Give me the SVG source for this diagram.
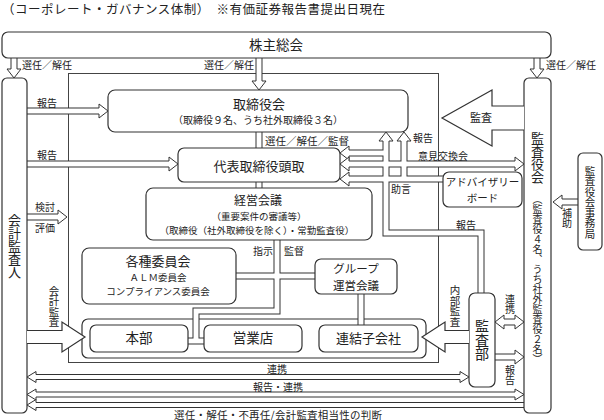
<svg xmlns="http://www.w3.org/2000/svg" width="604" height="420" viewBox="0 0 604 420">
<style>
text { font-family: "Noto Sans CJK JP", "Noto Sans CJK SC", sans-serif; fill: #222; }
.box { fill: #fff; stroke: #333; stroke-width: 1.2; }
.thin { fill: none; stroke: #444; stroke-width: 1; }
.dlo { fill: none; stroke: #333; stroke-width: 7; }
.dli { fill: none; stroke: #fff; stroke-width: 5; }
.dlo2 { fill: none; stroke: #333; stroke-width: 6; }
.dli2 { fill: none; stroke: #fff; stroke-width: 4; }
.hd { fill: #fff; stroke: #333; stroke-width: 1; }
.big { fill: #fff; stroke: #333; stroke-width: 1.2; }
.v { writing-mode: vertical-rl; text-anchor: middle; }
.c { text-anchor: middle; }
.s10 { font-size: 10px; }
.s11 { font-size: 11px; }
.s13 { font-size: 13px; }
</style>
<defs>
<g id="cp">
<path d="M14,56 V70"/>
<path d="M259,56 V82"/>
<path d="M537,56 V70"/>
<path d="M25,111 H100"/>
<path d="M25,164 H170"/>
<path d="M25,217 H58"/>
<path d="M259,130 V150"/>
<path d="M259,180 V190"/>
<path d="M277,238 V311 H196 V341"/>
<path d="M234,276 H317"/>
<path d="M186,341 H206"/>
<path d="M361,292 V327"/>
<path d="M481,295 V233 H386 V140"/>
<path d="M386,153 H348"/>
<path d="M348,164 H516"/>
<path d="M445,179 H348"/>
<path d="M404,179 V140"/>
<path d="M580,202 H561"/>
<path d="M503,322 H516"/>
<path d="M493,357 H516"/>
</g>
<g id="cp2">
<path d="M35,377 H461"/>
<path d="M35,394.5 H516"/>
<path d="M35,405 H526"/>
</g>
</defs>

<g id="title">
<text x="2" y="14" style="font-size:12.5px" textLength="383" lengthAdjust="spacing">（コーポレート・ガバナンス体制）　※有価証券報告書提出日現在</text>
</g>

<rect id="outer-frame" class="thin" x="68.5" y="73.5" width="370" height="289"/>
<rect id="group-frame" class="box" x="82" y="319" width="344" height="39" rx="6"/>

<g id="connectors">
<use href="#cp" class="dlo"/>
<use href="#cp2" class="dlo2"/>
<use href="#cp" class="dli"/>
<use href="#cp2" class="dli2"/>
</g>

<g id="shareholders"><rect class="box" x="2" y="32" width="549" height="26" rx="6"/>
<text class="c" x="276" y="50" style="font-size:13.5px">株主総会</text></g>

<g id="auditor"><rect class="box" x="2" y="78" width="25" height="335" rx="5"/>
<text class="v s13" x="14.5" y="246.5">会計監査人</text></g>

<g id="kansayakukai"><rect class="box" x="524" y="78" width="27" height="335" rx="5"/>
<text class="v s13" x="537.5" y="158">監査役会</text>
<text class="v s10" x="537.5" y="279">（監査役４名、うち社外監査役２名）</text></g>

<g id="jimukyoku"><rect class="box" x="578" y="153" width="24" height="97" rx="5"/>
<text class="v" x="590" y="202.5" style="font-size:10.5px">監査役会事務局</text></g>

<g id="board"><rect class="box" x="108" y="90" width="300" height="42" rx="7"/>
<text class="c s13" x="259" y="108.5">取締役会</text>
<text class="c s10" x="258" y="124">（取締役９名、うち社外取締役３名）</text></g>

<g id="president"><rect class="box" x="178" y="148" width="162" height="34" rx="6"/>
<text class="c s13" x="259" y="171">代表取締役頭取</text></g>

<g id="keiei"><rect class="box" x="146" y="188" width="226" height="52" rx="7"/>
<text class="c" x="258" y="205" style="font-size:12px">経営会議</text>
<text class="c" x="259" y="219.5" style="font-size:9.5px">（重要案件の審議等）</text>
<text class="c" x="257" y="233.5" style="font-size:9.5px">（取締役（社外取締役を除く）・常勤監査役）</text></g>

<g id="committees"><rect class="box" x="82" y="248" width="154" height="56" rx="7"/>
<text class="c s13" x="158" y="266">各種委員会</text>
<text class="c" x="158" y="281" style="font-size:9.5px">ＡＬＭ委員会</text>
<text class="c" x="158" y="295" style="font-size:9.5px">コンプライアンス委員会</text></g>

<g id="group-meeting"><rect class="box" x="315" y="259" width="82" height="35" rx="6"/>
<text class="c" x="356" y="273" style="font-size:11.5px">グループ</text>
<text class="c" x="356" y="290" style="font-size:11.5px">運営会議</text></g>

<g id="advisory"><rect class="box" x="443" y="172" width="79" height="35" rx="6"/>
<text class="c" x="482.5" y="186" style="font-size:10.5px">アドバイザリー</text>
<text class="c" x="482.5" y="201.5" style="font-size:10.5px">ボード</text></g>

<g id="honbu"><rect class="box" x="90" y="325" width="98" height="27" rx="6"/>
<text class="c" x="139" y="343" style="font-size:13.5px">本部</text></g>
<g id="eigyoten"><rect class="box" x="204" y="325" width="98" height="27" rx="6"/>
<text class="c" x="253" y="343" style="font-size:13.5px">営業店</text></g>
<g id="renketsu"><rect class="box" x="319" y="325" width="99" height="27" rx="6"/>
<text class="c s13" x="368.5" y="343">連結子会社</text></g>

<g id="kansabu"><rect class="box" x="469" y="293" width="26" height="94" rx="6"/>
<text class="v" x="482" y="340" style="font-size:14px">監査部</text></g>

<g id="arrowheads">
<path class="hd" d="M11,69 L7,69 L14,78 L21,69 L17,69"/>
<path class="hd" d="M256,81 L252,81 L259,90 L266,81 L262,81"/>
<path class="hd" d="M534,69 L530,69 L537,78 L544,69 L540,69"/>
<path class="hd" d="M99,108 L99,104 L108,111 L99,118 L99,114"/>
<path class="hd" d="M169,161 L169,157 L178,164 L169,171 L169,167"/>
<path class="hd" d="M58,214 L58,210 L67,217 L58,224 L58,220"/>
<path class="hd" d="M383,141 L379,141 L386,132 L393,141 L389,141"/>
<path class="hd" d="M401,141 L397,141 L404,132 L411,141 L407,141"/>
<path class="hd" d="M349,150 L349,146 L340,153 L349,160 L349,156"/>
<path class="hd" d="M349,161 L349,157 L340,164 L349,171 L349,167"/>
<path class="hd" d="M515,161 L515,157 L524,164 L515,171 L515,167"/>
<path class="hd" d="M349,176 L349,172 L340,179 L349,186 L349,182"/>
<path class="hd" d="M562,199 L562,195 L553,202 L562,209 L562,205"/>
<path class="hd" d="M504,319 L504,315 L495,322 L504,329 L504,325"/>
<path class="hd" d="M515,319 L515,315 L524,322 L515,329 L515,325"/>
<path class="hd" d="M515,354 L515,350 L524,357 L515,364 L515,360"/>
<path class="hd" d="M36,374.5 L36,371.5 L27,377 L36,382.5 L36,379.5"/>
<path class="hd" d="M460,374.5 L460,371.5 L469,377 L460,382.5 L460,379.5"/>
<path class="hd" d="M36,392 L36,389 L27,394.5 L36,400 L36,397"/>
<path class="hd" d="M515,392 L515,389 L524,394.5 L515,400 L515,397"/>
<path class="hd" d="M36,402.5 L36,399.5 L27,405 L36,410.5 L36,407.5"/>
</g>

<g id="big-arrows">
<path class="big" d="M524,106 L492,106 L492,90 L442,118 L492,146 L492,130 L524,130"/>
<path class="big" d="M27,330.5 L62,330.5 L62,322 L85,337 L62,352 L62,343.5 L27,343.5"/>
<path class="big" d="M469,330.5 L445,330.5 L445,322 L422,337 L445,352 L445,343.5 L469,343.5"/>
</g>

<g id="labels">
<text class="s10" x="22" y="69">選任／解任</text>
<text class="s10" x="254" y="69" text-anchor="end">選任／解任</text>
<text class="s10" x="546" y="69">選任／解任</text>
<text x="265" y="145" style="font-size:10.5px">選任／解任／監督</text>
<text class="s10" x="413" y="142">報告</text>
<text class="s10" x="418" y="160">意見交換会</text>
<text class="s10" x="391" y="193">助言</text>
<text class="s10" x="456" y="229">報告</text>
<text class="s10" x="253" y="255">指示</text>
<text class="s10" x="284" y="255">監督</text>
<text class="s10" x="37" y="106.5">報告</text>
<text class="s10" x="37" y="159">報告</text>
<text class="s10" x="35" y="211">検討</text>
<text class="s10" x="35" y="232">評価</text>
<text class="s11" x="470" y="122">監査</text>
<text class="v s10" x="567" y="218">補助</text>
<text class="v" x="54" y="306.5" style="font-size:10.5px">会計監査</text>
<text class="v" x="455" y="306" style="font-size:10.5px">内部監査</text>
<text class="v s10" x="510" y="304">連携</text>
<text class="v s10" x="510" y="375">報告</text>
<text class="c s10" x="277" y="373">連携</text>
<text class="c s10" x="278" y="391">報告・連携</text>
<text x="174" y="418.5" style="font-size:10.5px" textLength="208" lengthAdjust="spacing">選任・解任・不再任/会計監査相当性の判断</text>
</g>
</svg>
